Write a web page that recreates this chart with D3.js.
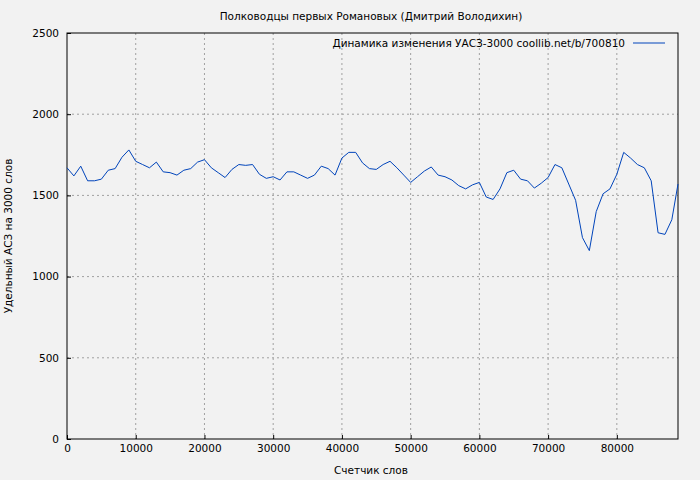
<!DOCTYPE html>
<html><head><meta charset="utf-8">
<script src="https://cdn.jsdelivr.net/npm/d3@7"></script>
<style>
body{margin:0;background:#f2f2f2;}
text{font-family:"DejaVu Sans",sans-serif;}
</style></head>
<body><svg id="c" width="700" height="480"></svg>
<script>
// words counter (thousands) and УАСЗ values
var xs = [];
for (var i = 0; i <= 88; i++) xs.push(i * 1000);
xs.push(88900);
var values = [1670,1620,1680,1590,1590,1600,1655,1665,1735,1780,
  1710,1690,1670,1705,1645,1640,1625,1655,1665,1705,
  1720,1670,1640,1610,1660,1690,1685,1690,1630,1605,
  1615,1595,1645,1645,1625,1605,1625,1680,1665,1625,
  1730,1765,1765,1700,1665,1660,1690,1710,1670,1625,
  1580,1615,1650,1675,1625,1615,1595,1560,1540,1565,
  1580,1490,1475,1540,1640,1655,1600,1590,1545,1575,
  1610,1690,1670,1570,1470,1240,1160,1400,1510,1540,
  1630,1765,1730,1690,1670,1590,1270,1260,1350,1570];
var xTicks = [0,10000,20000,30000,40000,50000,60000,70000,80000];
var yTicks = [0,500,1000,1500,2000,2500];

var svg = d3.select("#c");
var m = {l:67, r:678, t:33, b:439};
var fs = 10.5;
var x = d3.scaleLinear().domain([0,88900]).range([m.l,m.r]);
var y = d3.scaleLinear().domain([0,2500]).range([m.b,m.t]);

svg.append("rect").attr("width",700).attr("height",480).attr("fill","#f2f2f2");

// grid
svg.append("g").selectAll("line").data(xTicks.slice(1)).enter().append("line")
  .attr("x1",d=>x(d)).attr("x2",d=>x(d)).attr("y1",m.t).attr("y2",m.b)
  .attr("stroke","#a0a0a0").attr("stroke-dasharray","2,3");
svg.append("g").selectAll("line").data(yTicks.slice(1,-1)).enter().append("line")
  .attr("y1",d=>y(d)).attr("y2",d=>y(d)).attr("x1",m.l).attr("x2",m.r)
  .attr("stroke","#a0a0a0").attr("stroke-dasharray","2,3");

svg.append("rect").attr("x",m.l).attr("y",m.t).attr("width",m.r-m.l).attr("height",m.b-m.t)
  .attr("fill","none").attr("stroke","#000");

var xa = svg.append("g").attr("transform","translate(0,"+m.b+")")
  .call(d3.axisBottom(x).tickValues(xTicks).tickFormat(d3.format("d")).tickSize(-4).tickPadding(6));
var ya = svg.append("g").attr("transform","translate("+m.l+",0)")
  .call(d3.axisLeft(y).tickValues(yTicks).tickFormat(d3.format("d")).tickSize(-4).tickPadding(8));
[xa,ya].forEach(a=>{a.select(".domain").remove();a.selectAll("text").attr("font-size",fs).attr("fill","#000");});

svg.append("path").datum(values)
  .attr("d", d3.line().x((d,i)=>x(xs[i])).y(d=>y(d)))
  .attr("fill","none").attr("stroke","#0044bb").attr("stroke-width",1);

svg.append("text").attr("x",371).attr("y",20).attr("text-anchor","middle").attr("font-size",fs)
  .text("Полководцы первых Романовых (Дмитрий Володихин)");
svg.append("text").attr("x",371).attr("y",474).attr("text-anchor","middle").attr("font-size",fs)
  .text("Счетчик слов");
svg.append("text").attr("transform","translate(12,236) rotate(-90)").attr("text-anchor","middle").attr("font-size",fs)
  .text("Удельный АСЗ на 3000 слов");
svg.append("text").attr("x",625).attr("y",47).attr("text-anchor","end").attr("font-size",fs)
  .text("Динамика изменения УАСЗ-3000 coollib.net/b/700810");
svg.append("line").attr("x1",633).attr("x2",665).attr("y1",43).attr("y2",43)
  .attr("stroke","#0044bb");
</script></body></html>
